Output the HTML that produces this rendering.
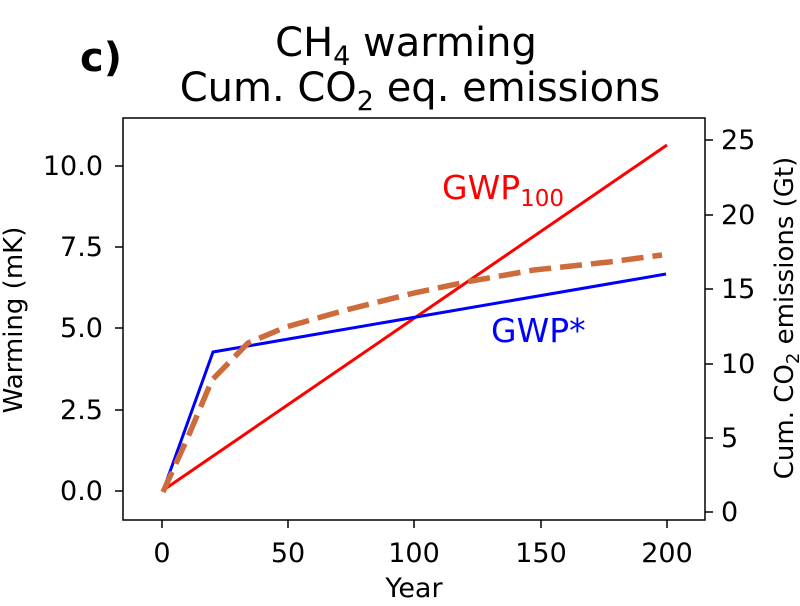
<!DOCTYPE html>
<html><head><style>body{margin:0;background:#fff}</style></head><body>
<svg width="800" height="601" xmlns="http://www.w3.org/2000/svg" font-family="DejaVu Sans, Liberation Sans, sans-serif">
<rect width="800" height="601" fill="#fff"/>
<text x="80" y="71" font-size="40" font-weight="bold">c)</text>
<text x="406" y="56" font-size="40" text-anchor="middle">CH<tspan font-size="27" dy="9">4</tspan><tspan dy="-9"> warming</tspan></text>
<text x="420" y="101" font-size="40" text-anchor="middle">Cum. CO<tspan font-size="27" dy="9">2</tspan><tspan dy="-9"> eq. emissions</tspan></text>
<rect x="123" y="118" width="582" height="402" fill="none" stroke="#000" stroke-width="1.5"/>
<g stroke="#000" stroke-width="1.5">
<line x1="162" y1="520" x2="162" y2="528"/><line x1="288" y1="520" x2="288" y2="528"/><line x1="414" y1="520" x2="414" y2="528"/><line x1="541" y1="520" x2="541" y2="528"/><line x1="667" y1="520" x2="667" y2="528"/>
<line x1="115" y1="491" x2="123" y2="491"/><line x1="115" y1="410" x2="123" y2="410"/><line x1="115" y1="328" x2="123" y2="328"/><line x1="115" y1="247" x2="123" y2="247"/><line x1="115" y1="166" x2="123" y2="166"/>
<line x1="705" y1="512" x2="713" y2="512"/><line x1="705" y1="438" x2="713" y2="438"/><line x1="705" y1="364" x2="713" y2="364"/><line x1="705" y1="289" x2="713" y2="289"/><line x1="705" y1="215" x2="713" y2="215"/><line x1="705" y1="140" x2="713" y2="140"/>
</g>
<g font-size="27" text-anchor="middle">
<text x="162" y="562">0</text><text x="288" y="562">50</text><text x="414" y="562">100</text><text x="541" y="562">150</text><text x="667" y="562">200</text>
<text x="414" y="597">Year</text>
</g>
<g font-size="27" text-anchor="end">
<text x="103" y="500">0.0</text><text x="103" y="419">2.5</text><text x="103" y="337">5.0</text><text x="103" y="256">7.5</text><text x="103" y="175">10.0</text>
</g>
<g font-size="27">
<text x="721" y="521">0</text><text x="721" y="447">5</text><text x="721" y="373">10</text><text x="721" y="298">15</text><text x="721" y="224">20</text><text x="721" y="149">25</text>
</g>
<text transform="translate(22,320) rotate(-90)" font-size="26" text-anchor="middle">Warming (mK)</text>
<text transform="translate(793,318) rotate(-90)" font-size="26" text-anchor="middle">Cum. CO<tspan font-size="18" dy="6">2</tspan><tspan dy="-6"> emissions (Gt)</tspan></text>
<polyline points="162,491 667,145" fill="none" stroke="#ff0000" stroke-width="3"/>
<polyline points="163,491 213,352 666,274" fill="none" stroke="#0000ff" stroke-width="3"/>
<polyline points="163,492 188,437 212,380 248,343 286,327 346,310 414,293 466,282 534,270 609,262 662,255" fill="none" stroke="#cd6b3a" stroke-width="5.5" stroke-dasharray="22,9"/>
<text x="442" y="199" font-size="33" fill="#ff0000">GWP<tspan font-size="23" dy="7">100</tspan></text>
<text x="491" y="342" font-size="33" fill="#0000ff">GWP*</text>
</svg>
</body></html>
